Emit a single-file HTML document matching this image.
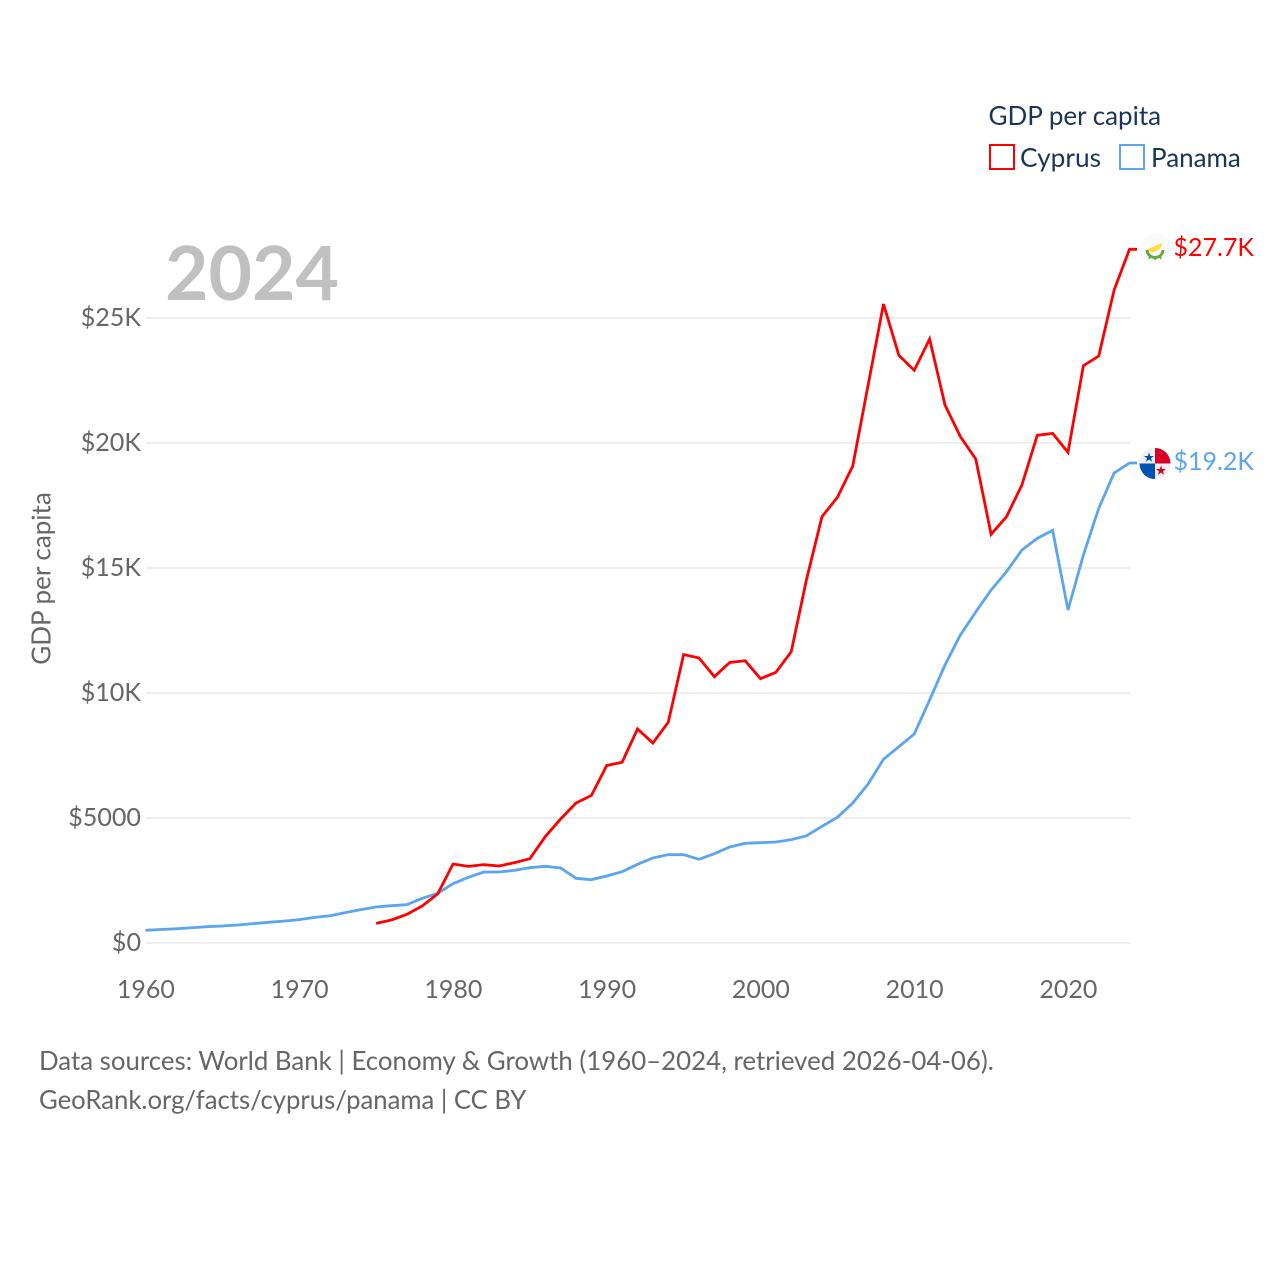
<!DOCTYPE html>
<html lang="en">
<head>
<meta charset="utf-8">
<title>GDP per capita: Cyprus and Panama</title>
<style>
html,body{margin:0;padding:0;background:#fff;width:1280px;height:1280px;overflow:hidden}
svg{display:block}
text{font-family:"Lato","Carlito","Liberation Sans",sans-serif}
</style>
</head>
<body>
<svg id="chart" xmlns="http://www.w3.org/2000/svg" width="1280" height="1280" viewBox="0 0 1280 1280">
  <rect width="1280" height="1280" fill="#fff"/>
  <g id="grid"></g>
  <g id="yticks"></g>
  <g id="xticks"></g>
  <text x="165" y="300" font-size="75" font-weight="700" fill="#c0c0c0">2024</text>
  <text transform="translate(50.500,578.500) rotate(-90)" text-anchor="middle" font-size="26" fill="#666">GDP per capita</text>
  <g id="series"></g>
  <g>
    <circle cx="1155" cy="249" r="15.500" fill="#fafafa"/>
    <path d="M1147.500 249.500 C1150 247.500 1153 247.500 1155 246 C1157.500 244.500 1160 244.500 1162 242.500 C1162 246.500 1160 249.500 1157 250.500 C1155 252 1152 252.500 1150 252 C1149 251.500 1148 250.500 1147.500 249.500Z" fill="#ffda44"/>
    <path d="M1147 250 C1147.500 255 1151 257.500 1155 257.500 C1159 257.500 1162.500 255 1163 250" fill="none" stroke="#6da544" stroke-width="3"/>
    <path d="M1150 256 L1149 259 M1155 257 L1155 260 M1160 256 L1161 259" fill="none" stroke="#6da544" stroke-width="1.500"/>
  </g>
  <g>
    <circle cx="1155" cy="463.500" r="15.500" fill="#f0f0f0"/>
    <path d="M1155 448 A15.500 15.500 0 0 1 1170.500 463.500 L1155 463.500Z" fill="#d80027"/>
    <path d="M1155 479 A15.500 15.500 0 0 1 1139.500 463.500 L1155 463.500Z" fill="#0052b4"/>
    <polygon points="1149,452.500 1150.200,456 1154,456 1151,458.200 1152.100,461.800 1149,459.600 1145.900,461.800 1147,458.200 1144,456 1147.800,456" fill="#0052b4"/>
    <polygon points="1161,465.500 1162.200,469 1166,469 1163,471.200 1164.100,474.800 1161,472.600 1157.900,474.800 1159,471.200 1156,469 1159.800,469" fill="#d80027"/>
  </g>
  <text x="1173.500" y="256" font-size="25" fill="#ff0000">$27.7K</text>
  <text x="1173.500" y="470" font-size="25" fill="#5ba4ee">$19.2K</text>
  <g>
    <text x="988.500" y="125" font-size="26" fill="#1a3557">GDP per capita</text>
    <g>
      <rect x="990" y="145" width="24" height="24" fill="#fff" stroke="#ff0000" stroke-width="2"/>
      <text x="1020" y="167" font-size="26.300" fill="#1a3557">Cyprus</text>
    </g>
    <g>
      <rect x="1120" y="145" width="24" height="24" fill="#fff" stroke="#5ba4ee" stroke-width="2"/>
      <text x="1151" y="167" font-size="26" fill="#1a3557">Panama</text>
    </g>
  </g>
  <text x="39" y="1070" font-size="25.830" fill="#666">Data sources: World Bank | Economy &amp; Growth (1960–2024, retrieved 2026-04-06).</text>
  <text x="39" y="1109" font-size="25.700" fill="#666">GeoRank.org/facts/cyprus/panama | CC BY</text>
</svg>
<script>
const yTickValues = [0, 5000, 10000, 15000, 20000, 25000];
const yTickLabels = ["$0", "$5000", "$10K", "$15K", "$20K", "$25K"];
const xTickYears = [1960, 1970, 1980, 1990, 2000, 2010, 2020];
const panamaStartYear = 1960;
const panamaValues = [507, 540, 570, 610, 653, 680, 720, 775, 827, 875, 933, 1027, 1090, 1213, 1333, 1440, 1493, 1533, 1787, 1987, 2373, 2627, 2840, 2840, 2907, 3013, 3067, 3000, 2587, 2533, 2680, 2853, 3147, 3400, 3533, 3533, 3347, 3573, 3840, 3987, 4013, 4040, 4133, 4293, 4667, 5027, 5600, 6360, 7350, 7853, 8360, 9720, 11120, 12320, 13240, 14120, 14853, 15720, 16187, 16507, 13320, 15520, 17387, 18800, 19200];
const cyprusStartYear = 1975;
const cyprusValues = [787, 920, 1147, 1480, 1960, 3160, 3067, 3133, 3080, 3213, 3373, 4253, 4960, 5600, 5900, 7100, 7230, 8560, 8000, 8827, 11540, 11400, 10653, 11220, 11290, 10573, 10827, 11653, 14560, 17053, 17827, 19080, 22320, 25560, 23507, 22907, 24160, 21520, 20253, 19360, 16347, 17053, 18320, 20307, 20387, 19627, 23093, 23480, 26120, 27747];

const NS = "http://www.w3.org/2000/svg";
const gridX = year => 146 + (year - 1960) * (1130 - 146) / 64;
const xScale = year => gridX(year) - 0.5;
const yScale = value => 943 - value * 0.025;
const CONNECTOR_END = 1137;

function make(tag, attrs, parent) {
  const el = document.createElementNS(NS, tag);
  for (const k in attrs) el.setAttribute(k, attrs[k]);
  parent.appendChild(el);
  return el;
}

const gridGroup = document.getElementById("grid");
const yGroup = document.getElementById("yticks");
yTickValues.forEach((v, i) => {
  const line = make("line", {x1: 146, x2: 1130, y1: yScale(v), y2: yScale(v), stroke: "#eeeeee", "stroke-width": 2}, gridGroup);
  
  
  const t = make("text", {x: 141, y: yScale(v) + 8, "text-anchor": "end", "font-size": 25.1, fill: "#666"}, yGroup);
  
  
  t.textContent = yTickLabels[i];
});

const xGroup = document.getElementById("xticks");
xTickYears.forEach(year => {
  const t = make("text", {x: gridX(year) - 0.1, y: 998, "text-anchor": "middle", "font-size": 25, fill: "#666"}, xGroup);
  
  
  t.textContent = year;
});

function pointsFor(values, startYear) {
  const pts = values.map((v, i) => xScale(startYear + i).toFixed(2) + "," + yScale(v).toFixed(2));
  pts.push(CONNECTOR_END + "," + yScale(values[values.length - 1]).toFixed(2));
  return pts.join(" ");
}

const seriesGroup = document.getElementById("series");
const panamaLine = make("polyline", {points: pointsFor(panamaValues, panamaStartYear), fill: "none", stroke: "#5ba4ee", "stroke-width": 2.8, "stroke-linejoin": "miter"}, seriesGroup);


const cyprusLine = make("polyline", {points: pointsFor(cyprusValues, cyprusStartYear), fill: "none", stroke: "#ff0000", "stroke-width": 2.8, "stroke-linejoin": "miter"}, seriesGroup);


</script>
</body>
</html>
